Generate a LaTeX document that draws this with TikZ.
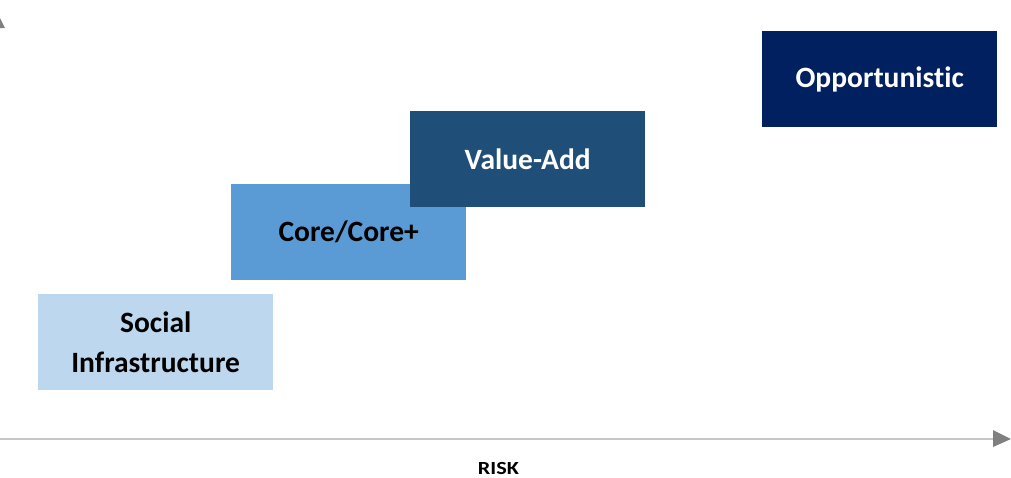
\documentclass[tikz,border=0pt]{standalone}
\usepackage{fontspec}
\setmainfont[Ligatures={NoCommon,NoDiscretionary,NoContextual}]{Carlito}
\begin{document}
\begin{tikzpicture}[x=1pt,y=-1pt,
  box/.style={draw=none,minimum width=235pt,minimum height=96pt,anchor=north west,inner sep=0pt,align=center,font=\bfseries\fontsize{29.5}{40}\selectfont},
  axisline/.style={draw=black!22,line width=2pt},
  tipfill/.style={fill=black!50,draw=none}]
\useasboundingbox (0,0) rectangle (1011,477);
\definecolor{cSocial}{HTML}{BDD7EE}
\definecolor{cCore}{HTML}{5B9BD5}
\definecolor{cValue}{HTML}{1F4E79}
\definecolor{cOpp}{HTML}{002060}
\node[box,fill=cSocial,text=black] (social) at (38,294) {Social\\Infrastructure};
\node[box,fill=cCore,text=black] (core) at (231,184) {Core/Core+};
\node[box,fill=cValue,text=white] (value) at (410,111) {Value-Add};
\node[box,fill=cOpp,text=white] (opp) at (762,31) {Opportunistic};
\coordinate (xstart) at (0,439);
\coordinate (xend) at (994,439);
\draw[axisline] (xstart) -- (xend);
\fill[tipfill] (993,430) -- (1011,439) -- (993,447) -- cycle;
\fill[tipfill] (-11,28) -- (-3,12) -- (5,28) -- cycle;
\node[font=\bfseries\fontsize{18.5}{20}\selectfont,inner sep=0pt] (risk) at (498.5,468) {\scalebox{1.2}[1]{RISK}};
\end{tikzpicture}
\end{document}
